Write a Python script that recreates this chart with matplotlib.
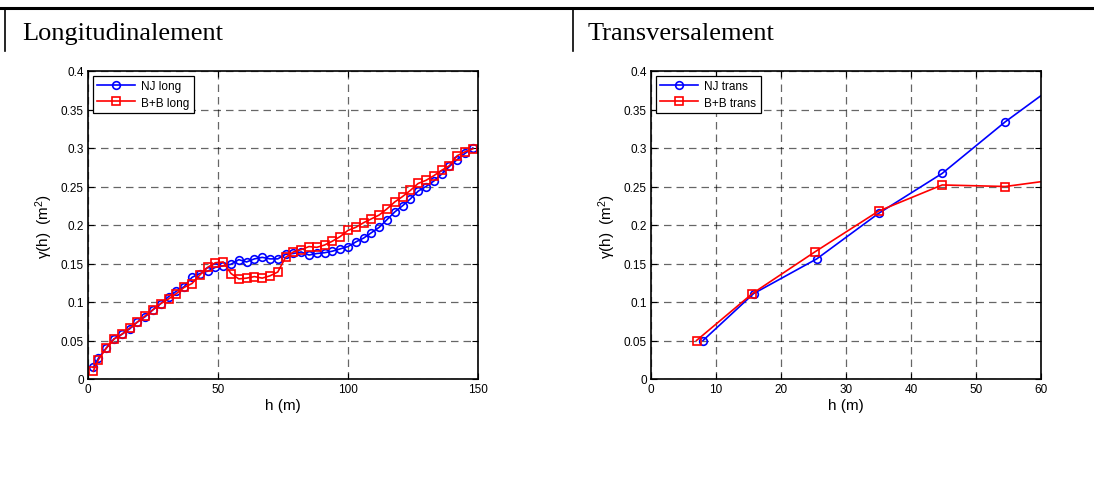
import numpy as np
import matplotlib.pyplot as plt

plt.rcParams['font.family'] = ['Liberation Sans', 'DejaVu Sans']
plt.rcParams['mathtext.default'] = 'regular'

# longitudinal variograms
h_long = [2, 4, 7, 10, 13, 16, 19, 22, 25, 28, 31, 34, 37, 40, 43, 46, 49, 52, 55,
          58, 61, 64, 67, 70, 73, 76, 79, 82, 85, 88, 91, 94, 97, 100, 103, 106, 109,
          112, 115, 118, 121, 124, 127, 130, 133, 136, 139, 142, 145, 148]
nj_long = [0.015, 0.027, 0.040, 0.052, 0.058, 0.065, 0.074, 0.081, 0.090, 0.098,
           0.107, 0.114, 0.120, 0.132, 0.137, 0.140, 0.145, 0.147, 0.149, 0.155,
           0.152, 0.156, 0.158, 0.156, 0.156, 0.162, 0.163, 0.165, 0.161, 0.163,
           0.164, 0.166, 0.169, 0.172, 0.178, 0.183, 0.190, 0.197, 0.207, 0.217,
           0.225, 0.234, 0.244, 0.250, 0.257, 0.266, 0.276, 0.285, 0.293, 0.300]
bb_long = [0.010, 0.025, 0.040, 0.052, 0.058, 0.066, 0.074, 0.082, 0.090, 0.098,
           0.104, 0.111, 0.119, 0.124, 0.135, 0.145, 0.151, 0.152, 0.137, 0.130,
           0.131, 0.133, 0.131, 0.134, 0.139, 0.158, 0.165, 0.168, 0.172, 0.171,
           0.174, 0.179, 0.185, 0.193, 0.197, 0.203, 0.208, 0.213, 0.221, 0.230,
           0.237, 0.245, 0.254, 0.258, 0.264, 0.271, 0.277, 0.290, 0.295, 0.299]

# transversal variograms
h_nj_trans = [8, 15.8, 25.5, 35, 44.8, 54.5, 64.2]
nj_trans = [0.050, 0.111, 0.156, 0.215, 0.267, 0.334, 0.394]
h_bb_trans = [7, 15.6, 25.2, 35, 44.8, 54.5, 64.2]
bb_trans = [0.050, 0.111, 0.165, 0.218, 0.252, 0.250, 0.261]

fig = plt.figure(figsize=(10.94, 4.85), dpi=100)

# header of the table
fig.add_artist(plt.Line2D([0, 1], [1 - 9 / 485, 1 - 9 / 485], color='black', lw=2.2))
for xv in [5 / 1094, 573 / 1094]:
    fig.add_artist(plt.Line2D([xv, xv], [1 - 9 / 485, 1 - 52 / 485], color='black', lw=1.2))
fig.text(22 / 1094, 1 - 40 / 485, 'Longitudinalement', family='Liberation Serif', fontsize=19)
fig.text(588 / 1094, 1 - 40 / 485, 'Transversalement', family='Liberation Serif', fontsize=19)


def style_axes(ax, xmax, xticks):
    ax.set_xlim(0, xmax)
    ax.set_ylim(0, 0.4)
    ax.set_xticks(xticks)
    ax.set_yticks(np.arange(0, 0.41, 0.05))
    ax.set_yticklabels(['0', '0.05', '0.1', '0.15', '0.2', '0.25', '0.3', '0.35', '0.4'])
    ax.set_xticklabels([str(int(t)) for t in xticks])
    ax.tick_params(direction='in', top=True, right=True, labelsize=8.5, length=4, pad=3)
    ax.grid(True, linestyle=(0, (6, 4)), color='black', alpha=0.6, lw=0.9)
    for s in ax.spines.values():
        s.set_linewidth(1.2)
    ax.set_xlabel('h (m)', fontsize=11, labelpad=2)
    ax.set_ylabel('\u03b3(h)  (m$^{2}$)', fontsize=11, labelpad=4)
    leg = ax.legend(loc='upper left', fontsize=8.5, fancybox=False, edgecolor='black',
                    framealpha=1, handlelength=3.2, borderaxespad=0.4,
                    handletextpad=0.5, labelspacing=0.35)
    leg.get_frame().set_linewidth(0.9)


ax1 = fig.add_axes([88 / 1094, 1 - 380 / 485, 390 / 1094, 308 / 485])
ax1.plot(h_long, nj_long, 'b-o', mfc='none', ms=5.5, lw=1.2, mew=1.2, label='NJ long')
ax1.plot(h_long, bb_long, 'r-s', mfc='none', ms=6, lw=1.2, mew=1.2, label='B+B long')
style_axes(ax1, 150, [0, 50, 100, 150])

ax2 = fig.add_axes([651 / 1094, 1 - 380 / 485, 390 / 1094, 308 / 485])
ax2.plot(h_nj_trans, nj_trans, 'b-o', mfc='none', ms=5.5, lw=1.2, mew=1.2, label='NJ trans')
ax2.plot(h_bb_trans, bb_trans, 'r-s', mfc='none', ms=6, lw=1.2, mew=1.2, label='B+B trans')
style_axes(ax2, 60, [0, 10, 20, 30, 40, 50, 60])

fig.savefig('out.png', dpi=100)
